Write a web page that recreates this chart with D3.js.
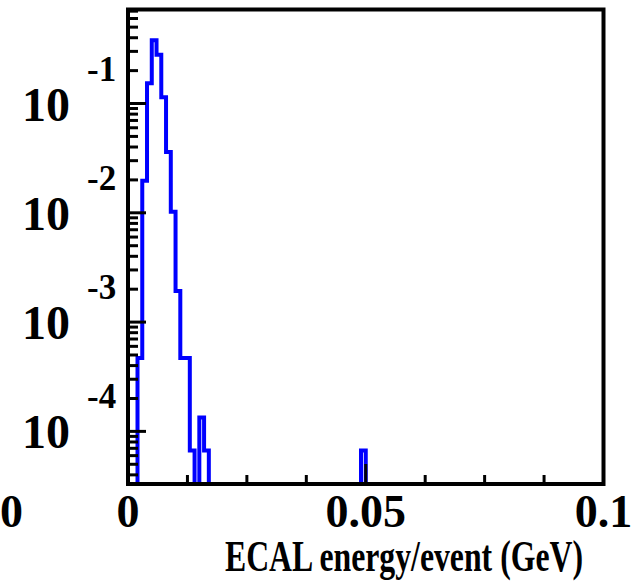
<!DOCTYPE html>
<html>
<head>
<meta charset="utf-8">
<script src="https://cdn.jsdelivr.net/npm/d3@7"></script>
<style>
  body { margin: 0; background: #fff; }
  svg { display: block; }
  text { font-family: "Liberation Serif", "Times New Roman", serif; font-weight: bold; fill: #000; }
</style>
</head>
<body>
<svg id="chart" width="635" height="583"></svg>
<script>
// histogram: 100 bins of 0.001 GeV from 0 to 0.1, normalised
const binWidth = 0.001;
const nBins = 100;
const binLow = [0.002, 0.003, 0.004, 0.005, 0.006, 0.007, 0.008, 0.009, 0.010, 0.011, 0.012, 0.013, 0.015, 0.016, 0.049];
const binValue = [4.7e-4, 0.0196, 0.153, 0.379, 0.280, 0.114, 0.036, 0.0102, 1.93e-3, 4.7e-4, 4.7e-4, 6.7e-5, 1.34e-4, 6.7e-5, 6.7e-5];

const xTickLabels = ["0", "0.05", "0.1"];
const xTickValues = [0, 0.05, 0.1];
const yDecades = [-1, -2, -3, -4];
const xTitle = "ECAL energy/event (GeV)";

const svg = d3.select("#chart");

const x = d3.scaleLinear().domain([0, 0.1]).range([128, 603.5]);
const y = d3.scaleLog().domain([3.3e-5, 0.725]).range([484, 9.5]);

// fill the full bin array
const content = new Array(nBins).fill(0);
binLow.forEach(function(lo, i) {
    content[Math.round(lo / binWidth)] = binValue[i];
});

// step outline, empty bins drop to the bottom of the frame
const yMin = y.domain()[0];
const pts = [];
content.forEach(function(v, i) {
    const yy = v > 0 ? y(v) : y(yMin);
    pts.push([x(i * binWidth), yy]);
    pts.push([x((i + 1) * binWidth), yy]);
});
pts.unshift([x(0), y(yMin)]);
pts.push([x(0.1), y(yMin)]);

svg.append("path")
    .attr("d", d3.line()(pts))
    .attr("fill", "none")
    .attr("stroke", "#0000ff")
    .attr("stroke-width", 4)
    .attr("stroke-linejoin", "miter");

// y ticks (log): majors at decades, minors 2..9
const yTicks = [];
for (let e = -5; e <= -1; e++) {
    for (let k = 1; k <= 9; k++) {
        const v = k * Math.pow(10, e);
        if (v >= yMin && v <= y.domain()[1]) yTicks.push({ v: v, major: k === 1 });
    }
}
svg.append("g").selectAll("line")
    .data(yTicks)
    .join("line")
    .attr("x1", x(0))
    .attr("x2", function(d) { return x(0) + (d.major ? 18 : 10); })
    .attr("y1", function(d) { return y(d.v); })
    .attr("y2", function(d) { return y(d.v); })
    .attr("stroke", "#000")
    .attr("stroke-width", 3);

// x ticks every 0.0125
const xTicks = d3.range(0, 0.1001, 0.0125);
svg.append("g").selectAll("line")
    .data(xTicks)
    .join("line")
    .attr("x1", function(d) { return x(d); })
    .attr("x2", function(d) { return x(d); })
    .attr("y1", y(yMin))
    .attr("y2", function(d) { return y(yMin) - (Math.abs(d - 0.05) < 1e-9 ? 20 : 9); })
    .attr("stroke", "#000")
    .attr("stroke-width", 3);

// frame
svg.append("rect")
    .attr("x", x(0))
    .attr("y", y(y.domain()[1]))
    .attr("width", x(0.1) - x(0))
    .attr("height", y(yMin) - y(y.domain()[1]))
    .attr("fill", "none")
    .attr("stroke", "#000")
    .attr("stroke-width", 4);

// y labels 10^-n
const yl = svg.append("g").selectAll("g")
    .data(yDecades)
    .join("g");
yl.append("text")
    .attr("x", 70)
    .attr("y", function(d) { return y(Math.pow(10, d)) + 17; })
    .attr("text-anchor", "end")
    .style("font-size", "48px")
    .text("10");
yl.append("text")
    .attr("x", 87)
    .attr("y", function(d) { return y(Math.pow(10, d)) - 23; })
    .style("font-size", "35px")
    .text(function(d) { return String(d); });

// x labels
svg.append("g").selectAll("text")
    .data(xTickValues)
    .join("text")
    .attr("x", function(d) { return x(d); })
    .attr("y", 527)
    .attr("text-anchor", "middle")
    .style("font-size", "46px")
    .text(function(d, i) { return xTickLabels[i]; });

// label cut at the left edge, from the neighbouring panel
svg.append("text")
    .attr("x", 23)
    .attr("y", 527)
    .attr("text-anchor", "end")
    .style("font-size", "46px")
    .text("00");

// x title
svg.append("text")
    .attr("x", 583)
    .attr("y", 571)
    .attr("text-anchor", "end")
    .attr("textLength", 358)
    .attr("lengthAdjust", "spacingAndGlyphs")
    .style("font-size", "44px")
    .text(xTitle);
</script>
</body>
</html>
